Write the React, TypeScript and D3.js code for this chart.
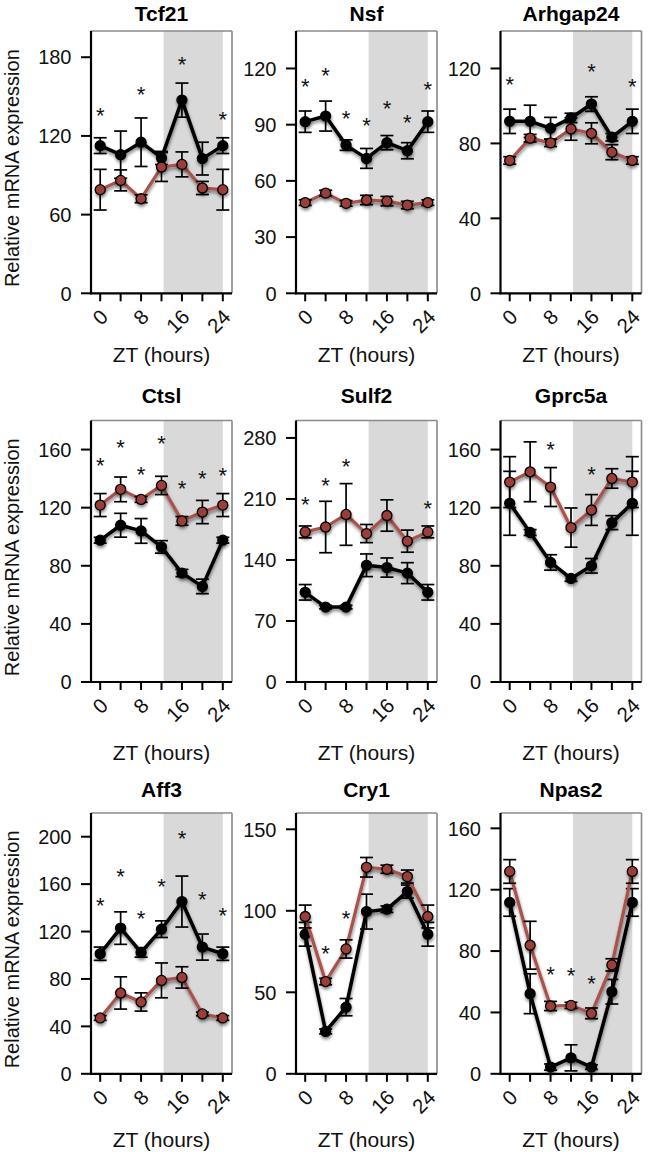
import React from "react";
import * as d3 from "d3";

// ---------- data ----------
const ZT = [0, 4, 8, 12, 16, 20, 24];
const xTickLabels = [0, 8, 16, 24];
const darkStart = 12.4;
const darkEnd = 24;

const genes = ["Tcf21", "Nsf", "Arhgap24", "Ctsl", "Sulf2", "Gprc5a", "Aff3", "Cry1", "Npas2"];
const yMaxes = [200, 140, 140, 180, 300, 180, 220, 160, 170];
const yTicks = [
  [0, 60, 120, 180],
  [0, 30, 60, 90, 120],
  [0, 40, 80, 120],
  [0, 40, 80, 120, 160],
  [0, 70, 140, 210, 280],
  [0, 40, 80, 120, 160],
  [0, 40, 80, 120, 160, 200],
  [0, 50, 100, 150],
  [0, 40, 80, 120, 160],
];

const blackVals = [
  [112.6, 105.7, 115.2, 103.2, 147.3, 102.7, 112.6],
  [91.6, 94.6, 79.1, 72, 80.4, 76.1, 91.6],
  [91.8, 91.8, 88.1, 93.6, 101, 83.3, 91.8],
  [97.6, 107.9, 104, 93, 75, 65.8, 97.6],
  [102.9, 85.9, 85.9, 133.9, 131.3, 124.9, 102.9],
  [123, 102.9, 82.3, 71.3, 80, 109.7, 123],
  [101.3, 122.9, 102.4, 122, 145.3, 106.9, 101.3],
  [85.6, 26, 40.9, 99.5, 101, 111.8, 85.6],
  [111.7, 52.2, 4.4, 10.4, 4.4, 53.5, 111.7],
];
const blackErrs = [
  [6, 18, 18.5, 5, 13, 12.5, 6],
  [5.7, 8, 2.8, 5.3, 3.8, 4.3, 5.7],
  [6.5, 8.6, 5.8, 2.5, 3.9, 2, 6.5],
  [2, 8.2, 8.5, 4.3, 2.5, 5, 2],
  [8.9, 2, 2, 13, 11, 12, 8.9],
  [22, 2, 5.3, 2, 5, 4.8, 22],
  [5.6, 13.7, 4, 7, 21.5, 11, 5.6],
  [7.3, 1.5, 5.3, 10.7, 2, 4, 7.3],
  [9, 13, 2, 8.5, 1.5, 8, 9],
];
const redVals = [
  [79, 86.1, 72.1, 96.3, 98.3, 80.3, 79],
  [48.4, 53.5, 48, 49.8, 49.2, 47.1, 48.4],
  [70.9, 82.8, 80.3, 87.7, 85.4, 75.3, 70.9],
  [121.8, 132.6, 125.7, 135.3, 110.9, 117, 121.8],
  [172.2, 177.8, 192.2, 170.3, 191, 161.6, 172.2],
  [137.6, 144.7, 134.2, 106.3, 118.4, 140.1, 137.6],
  [47.1, 68.2, 60.6, 78.8, 81.3, 50.5, 47.1],
  [96.5, 56.6, 76.6, 126.7, 125.5, 121, 96.5],
  [131.9, 83.8, 44.2, 44.6, 39.4, 71, 131.9],
];
const redErrs = [
  [15.5, 8, 3, 11, 9.5, 5, 15.5],
  [1.5, 1.5, 1.5, 2.5, 2.5, 2, 1.5],
  [2, 2, 2, 6, 5.6, 4, 2],
  [7.9, 8.5, 2, 6.3, 3, 8, 7.9],
  [6.8, 29.5, 35.4, 10.4, 18, 12.7, 6.8],
  [17.5, 20.6, 13.4, 13.5, 10.6, 6.7, 17.5],
  [2, 13.6, 7.7, 14.7, 9, 1.5, 2],
  [7, 2, 5.6, 6, 2.5, 4, 7],
  [7.7, 15.6, 3, 2, 3.5, 4, 7.7],
];
// significance asterisks: ZT and y value
const starZT = [
  [0, 8, 16, 24],
  [0, 4, 8, 12, 16, 20, 24],
  [0, 16, 24],
  [0, 4, 8, 12, 16, 20, 24],
  [0, 4, 8, 24],
  [8, 16],
  [0, 4, 8, 12, 16, 20, 24],
  [4, 8],
  [8, 12, 16],
];
const starVals = [
  [139, 155, 177.6, 136],
  [112.9, 118.8, 95.6, 92.1, 100.8, 93.3, 111],
  [114, 121, 113],
  [152, 164.6, 145.6, 167.5, 136.5, 143.5, 145],
  [209, 230.8, 252.4, 204],
  [163.4, 145.6],
  [146, 170.5, 135, 162, 202, 151, 137],
  [76.4, 98],
  [67.5, 67, 61.6],
];

// ---------- layout ----------
const colLeft = [91, 296, 500.5];
const plotW = 141;
const rowTop = [31, 420.5, 813];
const rowBottom = [293.3, 682, 1073.8];
const titleBase = [20.5, 403, 797];
const ztBase = [362, 760, 1147];

const FONT = "Arial, 'Liberation Sans', Helvetica, sans-serif";
const RED_LINE = "#a8524c";
const RED_FILL = "#9b3d38";
const SHADE = "#d9d9d9";

function Panel({ i }: { i: number }) {
  const col = i % 3;
  const row = Math.floor(i / 3);
  const left = colLeft[col];
  const right = left + plotW;
  const top = rowTop[row];
  const bottom = rowBottom[row];
  const x = d3.scaleLinear().domain([-1.8, 25.8]).range([left, right]);
  const y = d3.scaleLinear().domain([0, yMaxes[i]]).range([bottom, top]);
  const line = d3
    .line<number>()
    .x((_, k) => x(ZT[k]))
    .y((d) => y(d));

  const series = [
    { vals: blackVals[i], errs: blackErrs[i], stroke: "#000", fill: "#000", w: 3.5 },
    { vals: redVals[i], errs: redErrs[i], stroke: RED_LINE, fill: RED_FILL, w: 3.2 },
  ];

  return (
    <g>
      <rect x={x(darkStart)} y={top} width={x(darkEnd) - x(darkStart)} height={bottom - top} fill={SHADE} />
      <line x1={left} x2={right} y1={top} y2={top} stroke="#8a8a8a" strokeWidth={1.6} />
      <line x1={right} x2={right} y1={top} y2={bottom} stroke="#8a8a8a" strokeWidth={1.6} />
      {series.map((s, si) => (
        <g key={si}>
          <path d={line(s.vals) || ""} fill="none" stroke={s.stroke} strokeWidth={s.w} strokeLinejoin="round" filter="url(#shadow)" />
          {s.vals.map((v, k) => {
            const cx = x(ZT[k]);
            const y1 = y(v + s.errs[k]);
            const y2 = y(v - s.errs[k]);
            return (
              <g key={k} stroke="#000" strokeWidth={1.7}>
                <line x1={cx} x2={cx} y1={y1} y2={y2} />
                <line x1={cx - 6.5} x2={cx + 6.5} y1={y1} y2={y1} />
                <line x1={cx - 6.5} x2={cx + 6.5} y1={y2} y2={y2} />
              </g>
            );
          })}
          <g filter="url(#shadow)">
            {s.vals.map((v, k) => (
              <circle key={k} cx={x(ZT[k])} cy={y(v)} r={5} fill={s.fill} stroke="#000" strokeWidth={1.3} />
            ))}
          </g>
        </g>
      ))}
      {/* axes */}
      <line x1={left} x2={left} y1={top} y2={bottom + 1} stroke="#000" strokeWidth={2.2} />
      <line x1={left - 1} x2={right} y1={bottom} y2={bottom} stroke="#000" strokeWidth={2.2} />
      {yTicks[i].map((t) => (
        <g key={t}>
          <line x1={left - 10} x2={left} y1={y(t)} y2={y(t)} stroke="#000" strokeWidth={2} />
          <text x={left - 19.5} y={y(t)} dy="0.36em" textAnchor="end" fontSize={20} fontFamily={FONT} fill="#111">
            {t}
          </text>
        </g>
      ))}
      {ZT.map((t) => (
        <line key={t} x1={x(t)} x2={x(t)} y1={bottom} y2={bottom + 8} stroke="#000" strokeWidth={2} />
      ))}
      {xTickLabels.map((t) => (
        <text
          key={t}
          transform={`translate(${x(t) + 9},${bottom + 25}) rotate(-45)`}
          textAnchor="end"
          fontSize={20.5}
          fontFamily={FONT}
          fill="#111"
        >
          {t}
        </text>
      ))}
      {starZT[i].map((t, k) => (
        <text key={k} x={x(t)} y={y(starVals[i][k]) + 12} textAnchor="middle" fontSize={22} fontFamily={FONT} fill="#111">
          *
        </text>
      ))}
      <text x={(left + right) / 2} y={titleBase[row]} textAnchor="middle" fontSize={21} fontWeight="bold" fontFamily={FONT} fill="#000">
        {genes[i]}
      </text>
      <text x={(left + right) / 2} y={ztBase[row]} textAnchor="middle" fontSize={21} fontFamily={FONT} fill="#111">
        ZT (hours)
      </text>
      {col === 0 && (
        <text
          transform={`translate(18.5,${(top + bottom) / 2 + 6}) rotate(-90)`}
          textAnchor="middle"
          fontSize={20}
          fontFamily={FONT}
          fill="#111"
        >
          Relative mRNA expression
        </text>
      )}
    </g>
  );
}

export default function App() {
  return (
    <svg
      width={648}
      height={1152}
      viewBox="0 0 648 1152"
      style={{ position: "absolute", left: 0, top: 0, background: "#fff" }}
    >
      <defs>
        <filter id="shadow" x="-20%" y="-20%" width="140%" height="160%">
          <feDropShadow dx={0.5} dy={2.5} stdDeviation={1.8} floodColor="#000" floodOpacity={0.45} />
        </filter>
      </defs>
      <rect x={0} y={0} width={648} height={1152} fill="#fff" />
      {genes.map((_, i) => (
        <Panel key={i} i={i} />
      ))}
    </svg>
  );
}
